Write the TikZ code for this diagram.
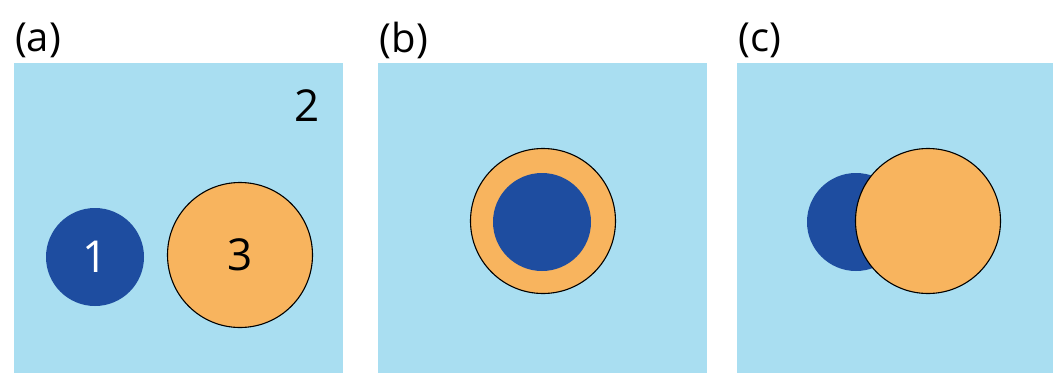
\documentclass[tikz,border=0pt]{standalone}
\usepackage{fontspec}
\setmainfont{Open Sans}
\usetikzlibrary{positioning}
\definecolor{mediumcolor}{HTML}{A9DEF1}
\definecolor{corecolor}{HTML}{1E4DA0}
\definecolor{shellcolor}{HTML}{F8B45E}

\begin{document}
\begin{tikzpicture}[
  x=1pt, y=-1pt,
  panel/.style={fill=mediumcolor},
  core/.style={circle, fill=corecolor, minimum size=98pt, inner sep=0pt,
               text=white, font=\fontsize{44}{44}\selectfont},
  shell/.style={circle, draw=black, line width=1.1pt, fill=shellcolor,
                minimum size=145pt, inner sep=0pt, font=\fontsize{44}{44}\selectfont},
  tag/.style={font=\fontsize{40}{40}\selectfont, inner sep=0pt},
  num/.style={font=\fontsize{44}{44}\selectfont, inner sep=0pt}
]
  \useasboundingbox (0,0) rectangle (1053,373);
  % three panels
  \fill[panel] (14,63) rectangle (343,373);
  \fill[panel] (378,63) rectangle (707,373);
  \fill[panel] (737,63) rectangle (1053,373);
  \node[tag] (La) at (38,40) {(a)};
  \node[tag] (Lb) at (404,40) {(b)};
  \node[tag] (Lc) at (760,40) {(c)};
  % (a) separate
  \node[core] (A1) at (95,257) {1};
  \node[shell] (A3) at (240,255) {3};
  \node[num] (A2) at (307,106) {2};
  % (b) engulfed
  \node[shell] (B3) at (543,221) {};
  \node[core] (B1) at (542,222) {};
  % (c) partial
  \node[core] (C1) at (856,222) {};
  \node[shell] (C3) at (928,221) {};
\end{tikzpicture}
\end{document}
